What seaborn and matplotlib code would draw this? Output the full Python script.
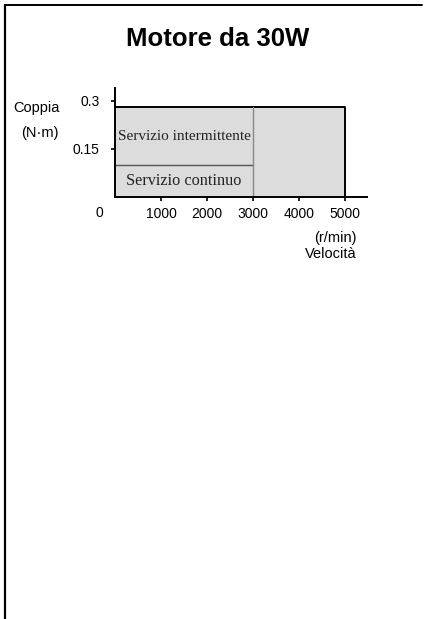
import matplotlib
matplotlib.use("Agg")
import matplotlib.pyplot as plt
import seaborn as sns
import numpy as np
from matplotlib.lines import Line2D

# Speed-torque characteristics
speed_intermittent = [0, 5000]      # r/min
torque_intermittent = [0.28, 0.28]  # N·m
speed_continuous = [0, 3000]
torque_continuous = [0.10, 0.10]
x_ticks = [1000, 2000, 3000, 4000, 5000]
y_ticks = [0.15, 0.3]
y_tick_labels = ["0.15", "0.3"]

sns.set_style("white")
plt.rcParams['font.family'] = ['Liberation Sans', 'DejaVu Sans']
plt.rcParams['text.color'] = 'black'
plt.rcParams['xtick.color'] = 'black'
plt.rcParams['ytick.color'] = 'black'

fig = plt.figure(figsize=(4.27, 6.19), dpi=100)
ax = fig.add_axes([115 / 427, 1 - 197 / 619, 252 / 427, 109 / 619])

fill = "#dcdcdc"
ax.fill_between(speed_intermittent, 0, torque_intermittent, color=fill, lw=0)
ax.fill_between(speed_continuous, 0, torque_continuous, color=fill, lw=0)

# outlines (estimator=None keeps the vertical segments)
sns.lineplot(x=[speed_intermittent[0], speed_intermittent[-1], speed_intermittent[-1]],
             y=[torque_intermittent[0], torque_intermittent[-1], 0],
             color="black", lw=1.4, sort=False, estimator=None, ax=ax)
sns.lineplot(x=speed_continuous, y=torque_continuous, color="#555555", lw=1.0,
             estimator=None, ax=ax)
sns.lineplot(x=[speed_continuous[-1], speed_continuous[-1]], y=[0, torque_intermittent[0]],
             color="#888888", lw=1.0, sort=False, estimator=None, ax=ax)

ax.set_xlim(0, 5478)
ax.set_ylim(0, 0.34)
ax.set_xticks(x_ticks)
ax.set_xticklabels([str(t) for t in x_ticks])
ax.set_yticks(y_ticks)
ax.set_yticklabels(y_tick_labels)
ax.tick_params(axis="both", direction="out", length=3, width=1.2, color="black",
               labelsize=10, pad=8, labelcolor="black")
ax.tick_params(axis="x", bottom=True, pad=4.5)
ax.tick_params(axis="y", left=True)
for side in ["top", "right"]:
    ax.spines[side].set_visible(False)
for side in ["left", "bottom"]:
    ax.spines[side].set_color("black")
    ax.spines[side].set_linewidth(1.4)
ax.set_xlabel("")
ax.set_ylabel("")

# region labels
ax.text(1500, 0.19, "Servizio intermittente", ha="center", va="center",
        family="Liberation Serif", fontsize=11, color="#222222")
ax.text(1500, 0.05, "Servizio continuo", ha="center", va="center",
        family="Liberation Serif", fontsize=11.7, color="#222222")

# zero label sits left of the axis
fig.text(99 / 427, 1 - 213 / 619, "0", ha="center", va="center", fontsize=10)

fig.text(218 / 427, 1 - 39 / 619, "Motore da 30W", ha="center", va="center",
         fontsize=18.5, fontweight="bold")
fig.text(13 / 427, 1 - 108 / 619, "Coppia", ha="left", va="center", fontsize=10.5)
fig.text(40 / 427, 1 - 133 / 619, "(N·m)", ha="center", va="center", fontsize=10.5)
fig.text(357 / 427, 1 - 238 / 619, "(r/min)", ha="right", va="center", fontsize=10.5)
fig.text(357 / 427, 1 - 254 / 619, "Velocità", ha="right", va="center", fontsize=10.5)

# page border (top and left only)
fig.add_artist(Line2D([5.5 / 427, 5.5 / 427], [0, 1 - 5 / 619], color="black", lw=1.6,
                      transform=fig.transFigure))
fig.add_artist(Line2D([5.5 / 427, 422 / 427], [1 - 5 / 619, 1 - 5 / 619], color="black",
                      lw=1.4, transform=fig.transFigure))

fig.savefig("out.png", dpi=100)
